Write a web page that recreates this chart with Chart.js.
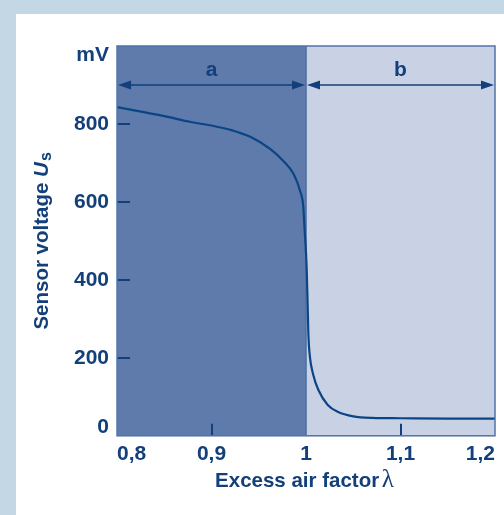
<!DOCTYPE html>
<html>
<head>
<meta charset="utf-8">
<script src="https://cdn.jsdelivr.net/npm/chart.js@4.4.0/dist/chart.umd.min.js"></script>
<style>
  html, body { margin: 0; padding: 0; }
  body { width: 504px; height: 515px; background: #c4d7e4; position: relative; overflow: hidden; }
  #wrap { position: absolute; left: 16px; top: 14px; width: 488px; height: 501px; background: #fff; }
</style>
</head>
<body>
<div id="wrap"><canvas id="chart"></canvas></div>
<script>
// sensor curve
const lambdaValues = [0.8, 0.85, 0.878, 0.9, 0.92, 0.941, 0.962, 0.976, 0.987, 0.9937, 0.997, 0.9985, 1.0007, 1.0018, 1.0025, 1.004, 1.0077, 1.013, 1.023, 1.034, 1.05, 1.07, 1.1, 1.15, 1.2];
const voltageValues = [843, 820, 805, 796, 785, 767, 736, 705, 671, 628, 590, 530, 430, 330, 260, 205, 156, 118, 79, 61, 50, 46, 45, 44, 44];

const xTickValues = [0.8, 0.9, 1.0, 1.1, 1.2];
const yTickValues = [0, 200, 400, 600, 800, 1000];
const yTickLabels = [["0", ""], "200", "400", "600", "800", ["", "mV"]];
const xInnerTicks = [0.9, 1.1];
const yInnerTicks = [200, 400, 600, 800];

const regionBounds = [0.8, 1.0, 1.2];
const regionLabels = ["a", "b"];
const regionColors = ["#5f7bab", "#c9d2e4"];
const arrowLevel = 900;
const labelLevel = 938;

const textColor = "#133f7a";
const curveColor = "#0b4585";
const fontFamily = "'Liberation Sans', Arial, sans-serif";

function formatLambda(value) {
  return String(Number(value.toFixed(1))).replace(".", ",");
}

const regionsPlugin = {
  id: "regions",
  beforeDatasetsDraw(chart) {
    const { ctx, chartArea, scales } = chart;
    ctx.save();
    for (let i = 0; i < regionLabels.length; i++) {
      const x0 = scales.x.getPixelForValue(regionBounds[i]);
      const x1 = scales.x.getPixelForValue(regionBounds[i + 1]);
      ctx.fillStyle = regionColors[i];
      ctx.fillRect(x0, chartArea.top, x1 - x0, chartArea.bottom - chartArea.top);
    }
    // boundary line at lambda = 1
    const xb = scales.x.getPixelForValue(regionBounds[1]);
    ctx.strokeStyle = "#4d6fa3";
    ctx.lineWidth = 1.5;
    ctx.beginPath();
    ctx.moveTo(xb, chartArea.top);
    ctx.lineTo(xb, chartArea.bottom);
    ctx.stroke();
    ctx.restore();
  },
};

function arrowHead(ctx, tipX, y, dir) {
  ctx.beginPath();
  ctx.moveTo(tipX, y);
  ctx.lineTo(tipX - dir * 13, y - 4.5);
  ctx.lineTo(tipX - dir * 13, y + 4.5);
  ctx.closePath();
  ctx.fill();
}

const decorPlugin = {
  id: "decor",
  afterDatasetsDraw(chart) {
    const { ctx, chartArea, scales } = chart;
    ctx.save();

    // double arrows with region letters
    const ya = scales.y.getPixelForValue(arrowLevel);
    const yl = scales.y.getPixelForValue(labelLevel);
    ctx.strokeStyle = textColor;
    ctx.fillStyle = textColor;
    ctx.lineWidth = 1.6;
    for (let i = 0; i < regionLabels.length; i++) {
      const x0 = scales.x.getPixelForValue(regionBounds[i]);
      const x1 = scales.x.getPixelForValue(regionBounds[i + 1]);
      ctx.beginPath();
      ctx.moveTo(x0 + 6, ya);
      ctx.lineTo(x1 - 6, ya);
      ctx.stroke();
      arrowHead(ctx, x0 + 1, ya, -1);
      arrowHead(ctx, x1 - 1, ya, 1);
      ctx.font = "bold 21px " + fontFamily;
      ctx.textAlign = "center";
      ctx.textBaseline = "middle";
      ctx.fillText(regionLabels[i], (x0 + x1) / 2, yl);
    }

    // inward tick marks
    ctx.lineWidth = 2;
    ctx.beginPath();
    for (const v of yInnerTicks) {
      const y = Math.round(scales.y.getPixelForValue(v));
      ctx.moveTo(chartArea.left, y);
      ctx.lineTo(chartArea.left + 13, y);
    }
    for (const v of xInnerTicks) {
      const x = Math.round(scales.x.getPixelForValue(v));
      ctx.moveTo(x, chartArea.bottom);
      ctx.lineTo(x, chartArea.bottom - 12);
    }
    ctx.stroke();

    // plot frame
    ctx.strokeStyle = "#4f74a9";
    ctx.lineWidth = 1.5;
    ctx.strokeRect(chartArea.left, chartArea.top, chartArea.right - chartArea.left, chartArea.bottom - chartArea.top);
    ctx.restore();
  },
  afterDraw(chart) {
    const { ctx, chartArea } = chart;
    ctx.save();
    ctx.fillStyle = textColor;
    ctx.textBaseline = "alphabetic";

    // y axis title: Sensor voltage U_s
    const mainFont = "bold 20.5px " + fontFamily;
    const italicFont = "italic bold 20.5px " + fontFamily;
    const subFont = "bold 16px " + fontFamily;
    ctx.font = mainFont;
    const w1 = ctx.measureText("Sensor voltage ").width;
    ctx.font = italicFont;
    const w2 = ctx.measureText("U").width;
    ctx.font = subFont;
    const w3 = ctx.measureText("s").width;
    const total = w1 + w2 + w3 + 1;
    ctx.translate(32, (chartArea.top + chartArea.bottom) / 2);
    ctx.rotate(-Math.PI / 2);
    let x = -total / 2;
    ctx.font = mainFont;
    ctx.textAlign = "left";
    ctx.fillText("Sensor voltage ", x, 0);
    x += w1;
    ctx.font = italicFont;
    ctx.fillText("U", x, 0);
    x += w2 + 1;
    ctx.font = subFont;
    ctx.fillText("s", x, 3);
    ctx.setTransform(1, 0, 0, 1, 0, 0);
    ctx.restore();

    // x axis title: Excess air factor λ
    ctx.save();
    ctx.fillStyle = textColor;
    const xf = "bold 20.5px " + fontFamily;
    const lf = "25px 'Liberation Serif', 'DejaVu Serif', serif";
    ctx.font = xf;
    const a = ctx.measureText("Excess air factor ").width;
    ctx.font = lf;
    const b = ctx.measureText("λ").width;
    const sx = (chartArea.left + chartArea.right) / 2 - (a + b) / 2;
    const by = chartArea.bottom + 51;
    ctx.font = xf;
    ctx.textAlign = "left";
    ctx.fillText("Excess air factor ", sx, by);
    ctx.font = lf;
    ctx.fillText("λ", sx + a - 3, by);
    ctx.restore();
  },
};

const chartData = lambdaValues.map((l, i) => ({ x: l, y: voltageValues[i] }));

new Chart(document.getElementById("chart"), {
  type: "line",
  data: {
    datasets: [
      {
        data: chartData,
        borderColor: curveColor,
        borderWidth: 2.2,
        pointRadius: 0,
        cubicInterpolationMode: "monotone",
        fill: false,
      },
    ],
  },
  options: {
    responsive: true,
    maintainAspectRatio: false,
    animation: false,
    events: [],
    layout: { padding: { left: 50, right: 9, top: 32, bottom: 42 } },
    plugins: { legend: { display: false }, tooltip: { enabled: false } },
    scales: {
      x: {
        type: "linear",
        min: 0.8,
        max: 1.2,
        afterBuildTicks: (scale) => {
          scale.ticks = xTickValues.map((v) => ({ value: v }));
        },
        grid: { display: false, drawTicks: false },
        border: { display: false },
        ticks: {
          align: "inner",
          padding: 6,
          color: textColor,
          font: { family: fontFamily, size: 21, weight: "bold" },
          callback: (value) => formatLambda(value),
        },
      },
      y: {
        type: "linear",
        min: 0,
        max: 1000,
        afterBuildTicks: (scale) => {
          scale.ticks = yTickValues.map((v) => ({ value: v }));
        },
        grid: { display: false, drawTicks: false },
        border: { display: false },
        ticks: {
          padding: 8,
          color: textColor,
          font: { family: fontFamily, size: 21, weight: "bold", lineHeight: 0.85 },
          callback: (value) => yTickLabels[yTickValues.indexOf(value)],
        },
      },
    },
  },
  plugins: [regionsPlugin, decorPlugin],
});
</script>
</body>
</html>
